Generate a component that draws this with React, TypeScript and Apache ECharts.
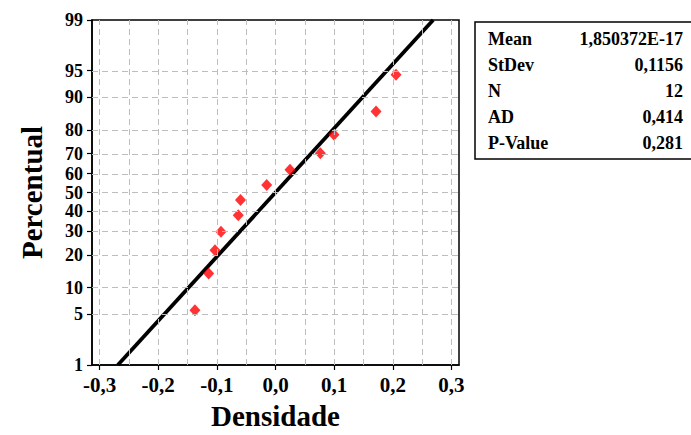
import React, { useEffect, useRef } from "react";
import * as echarts from "echarts";

// Observed data (Densidade residuals) and their plotted percentages
const densidade = [-0.1374, -0.114, -0.1032, -0.093, -0.0635, -0.0597, -0.015, 0.0247, 0.0765, 0.0998, 0.1715, 0.2056];
const percentual = [5.6, 13.7, 21.8, 29.8, 37.9, 46.0, 54.0, 62.1, 70.2, 78.2, 86.3, 94.4];

// Axis ticks
const yTickPercents = [1, 5, 10, 20, 30, 40, 50, 60, 70, 80, 90, 95, 99];
const yGridPercents = [5, 10, 20, 30, 40, 50, 60, 70, 80, 90, 95];
const xTickValues = [-0.3, -0.2, -0.1, 0.0, 0.1, 0.2, 0.3];
const xGridValues = [-0.3, -0.25, -0.2, -0.15, -0.1, -0.05, 0, 0.05, 0.1, 0.15, 0.2, 0.25, 0.3];

// Fit statistics
const fitMean = 1.850372e-17;
const fitStDev = 0.1156;
const fitRange = [1, 99];

// Legend table
const statLabels = ["Mean", "StDev", "N", "AD", "P-Value"];
const statValues = ["1,850372E-17", "0,1156", "12", "0,414", "0,281"];

// Inverse standard normal CDF (Acklam)
function probit(p: number): number {
  const a = [-3.969683028665376e1, 2.209460984245205e2, -2.759285104469687e2, 1.38357751867269e2, -3.066479806614716e1, 2.506628277459239];
  const b = [-5.447609879822406e1, 1.615858368580409e2, -1.556989798598866e2, 6.680131188771972e1, -1.328068155288572e1];
  const c = [-7.784894002430293e-3, -3.223964580411365e-1, -2.400758277161838, -2.549732539343734, 4.374664141464968, 2.938163982698783];
  const d = [7.784695709041462e-3, 3.224671290700398e-1, 2.445134137142996, 3.754408661907416];
  const pl = 0.02425;
  let q: number, r: number;
  if (p < pl) {
    q = Math.sqrt(-2 * Math.log(p));
    return (((((c[0] * q + c[1]) * q + c[2]) * q + c[3]) * q + c[4]) * q + c[5]) / ((((d[0] * q + d[1]) * q + d[2]) * q + d[3]) * q + 1);
  }
  if (p > 1 - pl) {
    q = Math.sqrt(-2 * Math.log(1 - p));
    return -(((((c[0] * q + c[1]) * q + c[2]) * q + c[3]) * q + c[4]) * q + c[5]) / ((((d[0] * q + d[1]) * q + d[2]) * q + d[3]) * q + 1);
  }
  q = p - 0.5;
  r = q * q;
  return ((((((a[0] * r + a[1]) * r + a[2]) * r + a[3]) * r + a[4]) * r + a[5]) * q) / (((((b[0] * r + b[1]) * r + b[2]) * r + b[3]) * r + b[4]) * r + 1);
}

const FONT = "'Liberation Serif', 'Times New Roman', serif";

export default function App() {
  const ref = useRef<HTMLDivElement>(null);
  useEffect(() => {
    if (!ref.current) return;
    const chart = echarts.init(ref.current, undefined, { renderer: "svg" });
    const yTickZ = yTickPercents.map((p) => probit(p / 100));
    const zMin = probit(0.01);
    const zMax = probit(0.99);
    const fitLine = fitRange.map((p) => {
      const z = probit(p / 100);
      return [fitMean + fitStDev * z, z];
    });
    const points = densidade.map((x, i) => [x, probit(percentual[i] / 100)]);
    const gridStyle = { color: "#bdbdbd", width: 1, type: [6, 4] as any };

    const legendTexts: any[] = [];
    statLabels.forEach((lab, i) => {
      const y = 40 + i * 26;
      legendTexts.push({
        type: "text", left: 488, top: y - 10,
        style: { text: lab, font: `bold 18px ${FONT}`, fill: "#000" },
      });
      legendTexts.push({
        type: "text", right: 8, top: y - 10,
        style: { text: statValues[i], font: `bold 18px ${FONT}`, fill: "#000", textAlign: "right" },
      });
    });

    chart.setOption({
      animation: false,
      backgroundColor: "#fff",
      grid: { left: 92, top: 20, right: 232, bottom: 67, show: true, borderColor: "#000", borderWidth: 1.5, backgroundColor: "transparent" },
      xAxis: {
        type: "value", min: -0.313, max: 0.313,
        axisLine: { show: true, onZero: false, lineStyle: { color: "#000", width: 1.5 } },
        axisTick: { show: true, customValues: xTickValues, length: 5, lineStyle: { color: "#000", width: 1.2 } },
        axisLabel: {
          customValues: xTickValues, margin: 9, color: "#000",
          fontFamily: FONT, fontWeight: "bold", fontSize: 21,
          formatter: (v: number) => v.toFixed(1).replace(".", ","),
        },
        splitLine: { show: false },
        name: "Densidade", nameLocation: "middle", nameGap: 36,
        nameTextStyle: { fontFamily: FONT, fontWeight: "bold", fontSize: 29, color: "#000" },
      },
      yAxis: {
        type: "value", min: zMin, max: zMax,
        axisLine: { show: true, onZero: false, lineStyle: { color: "#000", width: 1.5 } },
        axisTick: { show: true, customValues: yTickZ, length: 5, lineStyle: { color: "#000", width: 1.2 } },
        axisLabel: {
          customValues: yTickZ, margin: 9, color: "#000",
          fontFamily: FONT, fontWeight: "bold", fontSize: 18, lineHeight: 15,
          formatter: (v: number) => {
            let best = 0;
            yTickZ.forEach((z, i) => { if (Math.abs(z - v) < Math.abs(yTickZ[best] - v)) best = i; });
            return String(yTickPercents[best]);
          },
        },
        splitLine: { show: false },
        name: "Percentual", nameLocation: "middle", nameGap: 46, nameRotate: 90,
        nameTextStyle: { fontFamily: FONT, fontWeight: "bold", fontSize: 29, color: "#000" },
      },
      series: [
        {
          type: "line", data: [], silent: true,
          markLine: {
            silent: true, symbol: "none", label: { show: false },
            lineStyle: gridStyle,
            data: [
              ...xGridValues.map((x) => ({ xAxis: x })),
              ...yGridPercents.map((p) => ({ yAxis: probit(p / 100) })),
            ],
          },
        },
        {
          type: "line", data: fitLine, symbol: "none",
          lineStyle: { color: "#000", width: 3.8 }, z: 3,
        },
        {
          type: "scatter", data: points, symbol: "diamond", symbolSize: [11, 12],
          itemStyle: { color: "#ff0000" }, z: 4,
        },
      ],
      graphic: [
        { type: "rect", shape: { x: 475, y: 22, width: 240, height: 137 }, style: { fill: "#fff", stroke: "#000", lineWidth: 1.5 } },
        ...legendTexts,
      ],
    });
    return () => chart.dispose();
  }, []);
  return <div ref={ref} style={{ position: "fixed", left: 0, top: 0, width: 691, height: 435 }} />;
}
